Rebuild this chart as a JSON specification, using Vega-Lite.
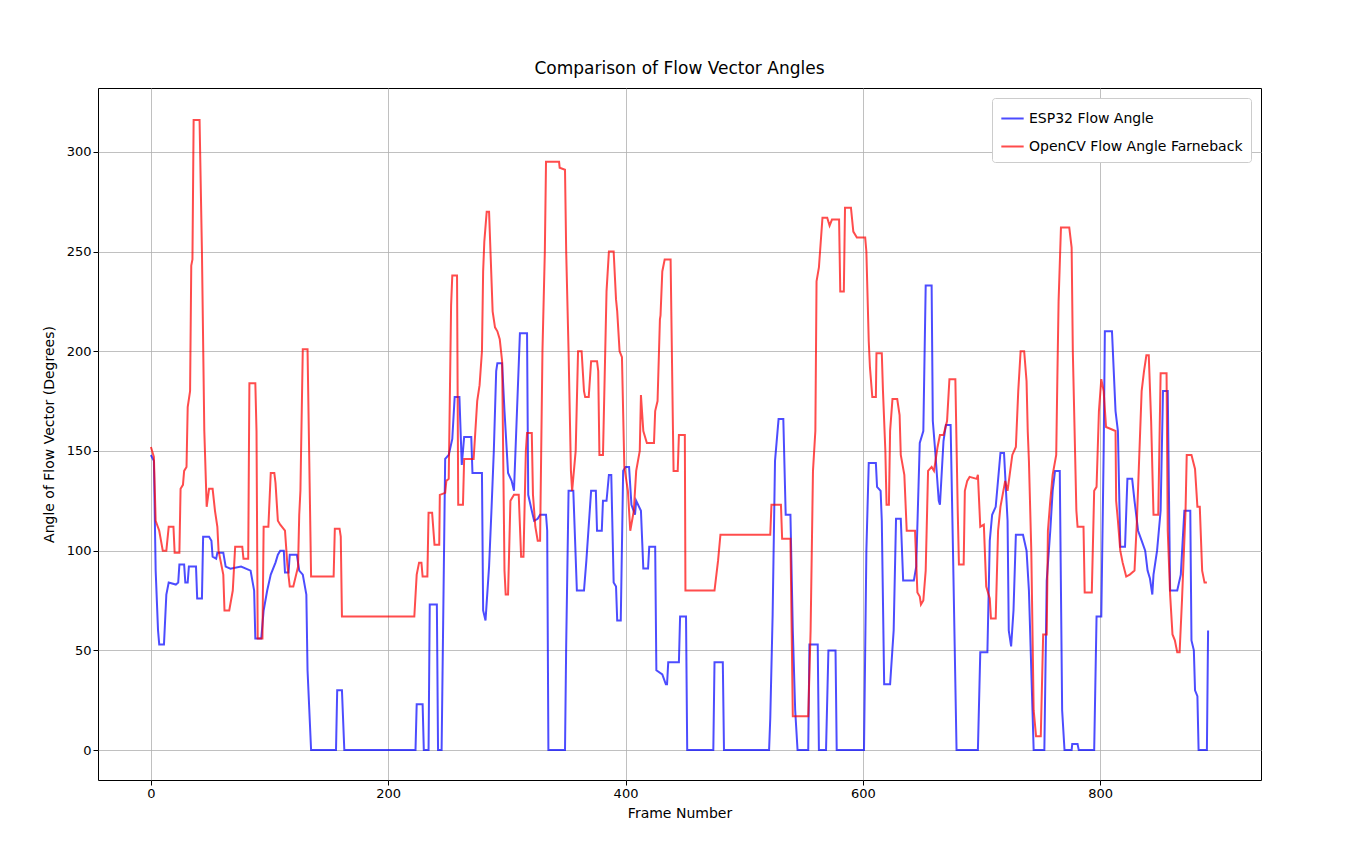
{
  "$schema": "https://vega.github.io/schema/vega-lite/v6.json",
  "width": 1163,
  "height": 692,
  "autosize": {"type": "none"},
  "padding": {"left": 98, "top": 88, "right": 92, "bottom": 73},
  "background": "white",
  "config": {
    "font": "DejaVu Sans",
    "view": {"stroke": "black", "strokeWidth": 1},
    "axis": {"grid": true, "gridColor": "#b0b0b0", "gridWidth": 0.8, "domain": false, "tickColor": "black", "tickSize": 5, "labelFontSize": 13, "labelColor": "black", "titleFontSize": 14, "titleFontWeight": "normal", "titleColor": "black"}
  },
  "title": {"text": "Comparison of Flow Vector Angles", "fontSize": 17, "fontWeight": "normal", "offset": 10},
  "datasets": {
    "esp": [
[0,148],[2.5,145],[4,90],[6,60],[7,53],[11,53],[13,78],[15,84],[21,83],[23,84],[24,93],[28,93],[29,84],[31,84],[32,92],[38,92],[39,76],[43,76],[44,107],[49,107],[51,105],[52,97],[55,96],[56,99],[61,99],[63,92],[67,91],[76,92],[84,90],[87,80],[88,56],[93,56],[95,70],[98,80],[101,88],[105,94],[107,98],[109,100],[112,100],[113,89],[116,89],[117,98],[123,98],[125,90],[128,88],[131,78],[132,40],[135,0],[156,0],[157,30],[161,30],[163,0],[223,0],[224,23],[229,23],[230,0],[234,0],[235,73],[241,73],[242,0],[245,0],[248,146],[251,148],[254,156],[256,177],[260,177],[262,143],[264,157],[270,157],[271,139],[279,139],[280,70],[282,65],[285,92],[287,120],[289,150],[291,190],[292,194],[296,194],[298,170],[301,139],[304,135],[306,130],[311,209],[317,209],[318,128],[321,120],[323,115],[326,116],[328,118],[333,118],[334,110],[335,0],[349,0],[350,53],[352,130],[356,130],[359,80],[365,80],[367,95],[371,130],[375,130],[376,110],[380,110],[381,125],[384,125],[386,138],[388,138],[390,84],[392,82],[393,65],[396,65],[398,140],[400,142],[403,142],[405,123],[408,118],[409,125],[413,120],[415,91],[419,91],[420,102],[425,102],[426,40],[431,38],[434,33],[435,33],[436,44],[445,44],[446,67],[451,67],[452,0],[474,0],[475,44],[482,44],[483,0],[521,0],[522,16],[524,68],[526,145],[529,166],[533,166],[535,118],[539,118],[541,60],[543,20],[545,0],[554,0],[555,53],[562,53],[563,0],[569,0],[571,50],[577,50],[578,0],[601,0],[603,100],[605,144],[611,144],[612,132],[615,130],[616,115],[618,33],[623,33],[626,60],[628,116],[632,116],[634,85],[643,85],[645,92],[648,154],[651,160],[653,233],[658,233],[659,165],[661,150],[664,125],[665,123],[668,155],[670,163],[674,163],[676,100],[679,0],[697,0],[699,49],[705,49],[707,105],[709,118],[712,122],[716,149],[719,149],[722,115],[723,60],[725,52],[727,70],[729,108],[735,108],[738,100],[740,80],[743,20],[744,0],[753,0],[755,85],[758,110],[760,130],[762,140],[766,140],[768,20],[770,0],[776,0],[776.5,3],[781,3],[782,0],[795,0],[797,67],[801,67],[803,150],[804,210],[810,210],[813,170],[815,160],[817,102],[821,102],[823,136],[827,136],[829,125],[832,110],[835,105],[838,100],[840,90],[842,86],[844,78],[845,88],[848,100],[851,120],[853,180],[857,180],[859,80],[865,80],[868,88],[871,120],[876,120],[877,55],[879,50],[880,30],[882,27],[883,0],[890,0],[891,60]
    ],
    "cv": [
[0,152],[2.5,147],[4,115],[7,110],[10,100],[13,100],[15,112],[19,112],[20,99],[24,99],[25,131],[27,133],[28,140],[30,142],[31,172],[33,180],[34,243],[35,246],[36,316],[41,316],[43,250],[45,160],[47,122],[49,131],[52,131],[54,120],[56,112],[57,100],[61,88],[62,70],[66,70],[69,80],[71,102],[77,102],[78,96],[82,96],[83,184],[88,184],[89,160],[90,56],[94,56],[95,112],[99,112],[101,139],[104,139],[105,134],[107,115],[109,113],[113,110],[115,93],[117,82],[120,82],[124,92],[125,118],[126,130],[128,201],[132,201],[135,87],[154,87],[155,111],[159,111],[160,107],[161,67],[222,67],[224,88],[226,94],[228,94],[229,87],[233,87],[234,119],[237,119],[239,103],[243,103],[243.5,128],[248,129],[249,135],[251,136],[253,223],[254,238],[258,238],[259,123],[263,123],[264,146],[272,146],[275,175],[277,183],[279,200],[280,240],[281,255],[283,270],[285,270],[288,220],[290,212],[292,210],[294,206],[296,195],[298,90],[299,78],[301,78],[303,125],[306,128],[310,128],[312,97],[314,97],[316,150],[317,159],[321,159],[322,128],[324,112],[326,105],[328,105],[330,200],[332,250],[333,295],[344,295],[344.5,292],[349,291],[350,250],[352,200],[354,140],[355,130],[358,150],[360,200],[363,200],[365,180],[366,177],[369,177],[371,195],[376,195],[377,190],[378,148],[381,148],[384,230],[386,250],[390,250],[392,226],[393,220],[395,200],[397,197],[399,142],[402,130],[404,110],[407,120],[409,140],[412,150],[413,178],[415,160],[418,154],[424,154],[425,170],[427,175],[429,216],[429.5,218],[431,240],[433,246],[438,246],[440,160],[440.5,140],[444,140],[445,158],[450,158],[450.5,80],[475,80],[478,95],[480,108],[522,108],[523,123],[531,123],[532,106],[539,106],[541,17],[554,17],[556,60],[558,140],[560,160],[561,235],[563,242],[566,267],[570,267],[572,263],[574,266],[580,266],[581,230],[584,230],[585,272],[590,272],[592,260],[595,257],[602,257],[603,250],[605,205],[606,192],[608,177],[611,177],[611.5,199],[616,199],[617,180],[619,150],[620,123],[622,123],[623,160],[625,176],[629,176],[631,168],[632,148],[635,138],[637,110],[644,110],[646,79],[648,77],[649,73],[651,75],[653,90],[655,140],[658,142],[660,140],[663,152],[665,158],[668,158],[671,165],[673,186],[678,186],[680,120],[681,93],[685,93],[686,130],[688,135],[690,137],[696,136],[697,138],[699,112],[702,113],[704,82],[707,76],[708,66],[712,66],[714,110],[716,122],[720,135],[722,130],[726,148],[729,152],[731,180],[733,200],[736,200],[738,185],[739,160],[740,145],[742,100],[744,20],[746,7],[750,7],[752,58],[755,58],[756,110],[758,125],[760,138],[763,148],[764,188],[765,225],[767,262],[774,262],[776,252],[777,200],[780,120],[781,112],[786,112],[787,79],[793,79],[795,130],[797,132],[799,170],[801,186],[803,180],[805,162],[813,160],[813.5,125],[815,115],[817,100],[819,94],[822,87],[825,88],[829,90],[831,115],[835,180],[837,190],[839,198],[841,198],[843,165],[845,118],[849,118],[851,189],[856,189],[857,110],[859,78],[861,58],[863,55],[865,49],[867,49],[869,75],[872,120],[873,148],[877,148],[880,141],[882,122],[884,122],[886,90],[888,84],[890,84]
    ]
  },
  "layer": [
    {
      "data": {"name": "esp"},
      "transform": [
        {"calculate": "datum[0]", "as": "Frame"},
        {"calculate": "datum[1]", "as": "Angle"},
        {"calculate": "'ESP32 Flow Angle'", "as": "Series"}
      ],
      "mark": {"type": "line", "strokeWidth": 2, "opacity": 0.7, "clip": true},
      "encoding": {
        "x": {"field": "Frame", "type": "quantitative"},
        "y": {"field": "Angle", "type": "quantitative"},
        "color": {"field": "Series", "type": "nominal"}
      }
    },
    {
      "data": {"name": "cv"},
      "transform": [
        {"calculate": "datum[0]", "as": "Frame"},
        {"calculate": "datum[1]", "as": "Angle"},
        {"calculate": "'OpenCV Flow Angle Farneback'", "as": "Series"}
      ],
      "mark": {"type": "line", "strokeWidth": 2, "opacity": 0.7, "clip": true},
      "encoding": {
        "x": {"field": "Frame", "type": "quantitative", "title": "Frame Number", "scale": {"domain": [-44.6, 935.6], "nice": false, "zero": false}, "axis": {"values": [0, 200, 400, 600, 800], "titlePadding": 6}},
        "y": {"field": "Angle", "type": "quantitative", "title": "Angle of Flow Vector (Degrees)", "scale": {"domain": [-15, 332], "nice": false}, "axis": {"values": [0, 50, 100, 150, 200, 250, 300], "titlePadding": 10}},
        "color": {
          "field": "Series", "type": "nominal",
          "scale": {"domain": ["ESP32 Flow Angle", "OpenCV Flow Angle Farneback"], "range": ["blue", "red"]},
          "legend": {"title": null, "orient": "top-right", "offset": 10, "symbolType": "stroke", "symbolStrokeWidth": 2, "symbolOpacity": 0.7, "symbolSize": 500, "labelFontSize": 14, "labelLimit": 0, "rowPadding": 8, "padding": 8, "fillColor": "white", "strokeColor": "#cccccc", "cornerRadius": 3}
        }
      }
    }
  ]
}
